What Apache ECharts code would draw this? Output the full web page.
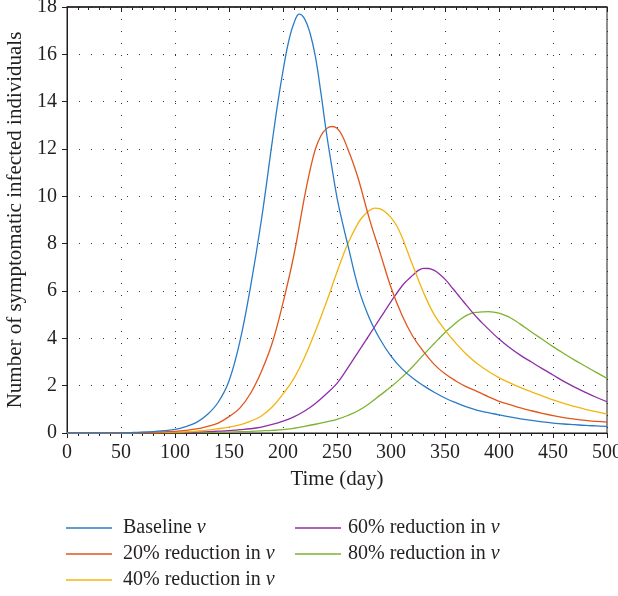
<!DOCTYPE html>
<html>
<head>
<meta charset="utf-8">
<script src="https://cdn.jsdelivr.net/npm/echarts@6.0.0/dist/echarts.min.js"></script>
<style>
  html, body { margin: 0; padding: 0; background: #fff; }
  #main { width: 618px; height: 596px; }
</style>
</head>
<body>
<div id="main"></div>
<script>
// [day, value] pairs
var baseline = [[0,0],[10,0],[20,0],[30,0],[40,0.005],[50,0.01],[60,0.02],[70,0.035],[80,0.06],[90,0.1],[100,0.15],[110,0.27],[120,0.45],[130,0.78],[140,1.3],[150,2.2],[160,3.85],[170,6.2],[180,9.0],[190,12.3],[195,13.9],[200,15.3],[205,16.5],[210,17.3],[215,17.7],[220,17.5],[225,16.9],[230,15.9],[235,14.4],[240,12.75],[245,11.3],[250,9.95],[255,8.9],[260,7.95],[270,6.1],[280,4.85],[290,3.95],[300,3.25],[310,2.72],[320,2.32],[330,2.0],[340,1.72],[350,1.48],[360,1.28],[370,1.1],[380,0.96],[390,0.86],[400,0.77],[410,0.68],[420,0.6],[430,0.53],[440,0.47],[450,0.42],[460,0.38],[470,0.35],[480,0.32],[490,0.3],[500,0.28]];
var red20 = [[0,0],[10,0],[20,0],[30,0.003],[40,0.006],[50,0.01],[60,0.015],[70,0.025],[80,0.035],[90,0.05],[100,0.07],[110,0.11],[120,0.17],[130,0.28],[140,0.42],[150,0.69],[160,1.05],[170,1.68],[180,2.6],[190,3.8],[200,5.5],[210,7.5],[220,10.0],[225,11.1],[230,12.0],[235,12.55],[240,12.85],[245,12.95],[250,12.88],[255,12.55],[260,12.0],[265,11.4],[270,10.7],[280,9.05],[290,7.6],[300,6.15],[310,5.0],[320,4.1],[330,3.45],[340,2.9],[350,2.5],[360,2.2],[370,1.95],[380,1.75],[390,1.54],[400,1.34],[410,1.2],[420,1.06],[430,0.94],[440,0.83],[450,0.73],[460,0.65],[470,0.59],[480,0.53],[490,0.49],[500,0.46]];
var red40 = [[0,0],[10,0],[20,0],[30,0.002],[40,0.003],[50,0.005],[60,0.008],[70,0.012],[80,0.018],[90,0.025],[100,0.035],[110,0.05],[120,0.08],[130,0.12],[140,0.18],[150,0.25],[160,0.34],[170,0.5],[180,0.72],[190,1.1],[200,1.65],[210,2.3],[220,3.2],[230,4.3],[240,5.5],[250,6.8],[260,8.0],[270,8.9],[275,9.2],[280,9.4],[285,9.5],[290,9.47],[295,9.33],[300,9.1],[305,8.78],[310,8.3],[315,7.7],[320,7.1],[330,5.95],[340,5.0],[350,4.35],[360,3.8],[370,3.32],[380,2.93],[390,2.61],[400,2.34],[410,2.12],[420,1.92],[430,1.74],[440,1.57],[450,1.4],[460,1.25],[470,1.12],[480,1.0],[490,0.9],[500,0.8]];
var red60 = [[0,0],[20,0],[40,0.002],[60,0.005],[80,0.01],[100,0.02],[110,0.03],[120,0.04],[130,0.055],[140,0.075],[150,0.1],[160,0.14],[170,0.18],[180,0.25],[190,0.36],[200,0.5],[210,0.68],[220,0.93],[230,1.25],[240,1.65],[250,2.1],[260,2.75],[270,3.45],[280,4.15],[290,4.85],[300,5.55],[310,6.2],[315,6.45],[320,6.66],[325,6.86],[330,6.96],[335,6.95],[340,6.87],[345,6.71],[350,6.5],[355,6.23],[360,5.95],[365,5.67],[370,5.39],[375,5.12],[380,4.86],[385,4.62],[390,4.4],[400,3.97],[410,3.6],[420,3.28],[430,3.0],[440,2.72],[450,2.45],[460,2.18],[470,1.94],[480,1.72],[490,1.51],[500,1.32]];
var red80 = [[0,0],[20,0],[40,0.001],[60,0.003],[80,0.006],[100,0.01],[110,0.012],[120,0.016],[130,0.022],[140,0.03],[150,0.04],[160,0.055],[170,0.07],[180,0.09],[190,0.11],[200,0.14],[210,0.2],[220,0.28],[230,0.37],[240,0.47],[250,0.58],[260,0.74],[270,0.95],[280,1.25],[290,1.6],[300,1.95],[310,2.35],[320,2.8],[330,3.3],[340,3.78],[350,4.25],[360,4.65],[365,4.83],[370,4.97],[375,5.06],[380,5.1],[385,5.12],[390,5.13],[395,5.11],[400,5.06],[405,4.98],[410,4.88],[415,4.74],[420,4.59],[430,4.27],[440,3.96],[450,3.65],[460,3.36],[470,3.08],[480,2.82],[490,2.56],[500,2.31]];

var names = ['Baseline ν', '20% reduction in ν', '40% reduction in ν', '60% reduction in ν', '80% reduction in ν'];
var colors = ['#2a7bc8', '#e0561c', '#f2b50f', '#8e2fa8', '#7db32e'];
var allData = [baseline, red20, red40, red60, red80];

var serif = 'Liberation Serif';
var textColor = '#231f20';

var chart = echarts.init(document.getElementById('main'));

var series = allData.map(function (d, i) {
  return {
    name: names[i],
    type: 'line',
    data: d,
    smooth: 0.4,
    symbol: 'none',
    lineStyle: { color: colors[i], width: 1.3 },
    itemStyle: { color: colors[i] },
    z: 10 - i
  };
});

function legendText(padLeft) {
  return {
    fontFamily: serif,
    fontSize: 20,
    color: textColor,
    lineHeight: 20,
    padding: [0, 0, 0, padLeft],
    rich: { i: { fontFamily: serif, fontStyle: 'italic', fontSize: 20, color: textColor } }
  };
}
function legendFmt(n) { return n.replace('ν', '{i|ν}'); }

var option = {
  backgroundColor: '#fff',
  animation: false,
  grid: {
    left: 67, right: 11, top: 7, bottom: 163,
    outerBoundsMode: 'none', containLabel: false,
    show: true, borderColor: '#231f20', borderWidth: 1
  },
  legend: [
    {
      orient: 'vertical', left: 66, top: 518, padding: 0,
      icon: 'rect', itemWidth: 46, itemHeight: 1.5, itemGap: 6,
      data: names.slice(0, 3),
      formatter: legendFmt,
      textStyle: legendText(6)
    },
    {
      orient: 'vertical', left: 295, top: 518, padding: 0,
      icon: 'rect', itemWidth: 46, itemHeight: 1.5, itemGap: 6,
      data: names.slice(3),
      formatter: legendFmt,
      textStyle: legendText(2)
    }
  ],
  xAxis: [
    {
      type: 'value', min: 0, max: 500, interval: 50,
      name: 'Time (day)', nameLocation: 'middle', nameGap: 36,
      nameTextStyle: { fontFamily: serif, fontSize: 21, color: textColor },
      axisLine: { lineStyle: { color: '#231f20', width: 1 } },
      axisTick: { show: true, length: 5, lineStyle: { color: '#231f20' } },
      axisLabel: { fontFamily: serif, fontSize: 20, color: textColor, margin: 10 },
      splitLine: { show: true, lineStyle: { color: '#333', width: 1, type: [1, 11] } }
    },
    {
      // minor ticks pointing inward along the bottom
      type: 'value', min: 0, max: 500, interval: 50, position: 'bottom',
      axisLine: { show: false },
      axisTick: { show: false },
      minorTick: { show: true, splitNumber: 5, length: 3, lineStyle: { color: '#231f20' } },
      axisLabel: { show: false },
      splitLine: { show: false },
      minorSplitLine: { show: false }
    },
    {
      // top edge with inward ticks
      type: 'value', min: 0, max: 500, interval: 50, position: 'top',
      axisLine: { show: true, lineStyle: { color: '#231f20', width: 1.5 } },
      axisTick: { show: true, inside: true, length: 5, lineStyle: { color: '#231f20' } },
      minorTick: { show: true, splitNumber: 5, length: 3, lineStyle: { color: '#231f20' } },
      axisLabel: { show: false },
      splitLine: { show: false }
    }
  ],
  yAxis: [
    {
      type: 'value', min: 0, max: 18, interval: 2,
      name: 'Number of symptomatic infected individuals', nameLocation: 'middle', nameGap: 40,
      nameTextStyle: { fontFamily: serif, fontSize: 21, color: textColor },
      axisLine: { show: true, lineStyle: { color: '#231f20', width: 1 } },
      axisTick: { show: true, length: 5, lineStyle: { color: '#231f20' } },
      axisLabel: { fontFamily: serif, fontSize: 20, color: textColor, margin: 10 },
      splitLine: { show: true, lineStyle: { color: '#333', width: 1, type: [1, 11] } }
    }
  ],
  series: series
};

chart.setOption(option);
</script>
</body>
</html>
